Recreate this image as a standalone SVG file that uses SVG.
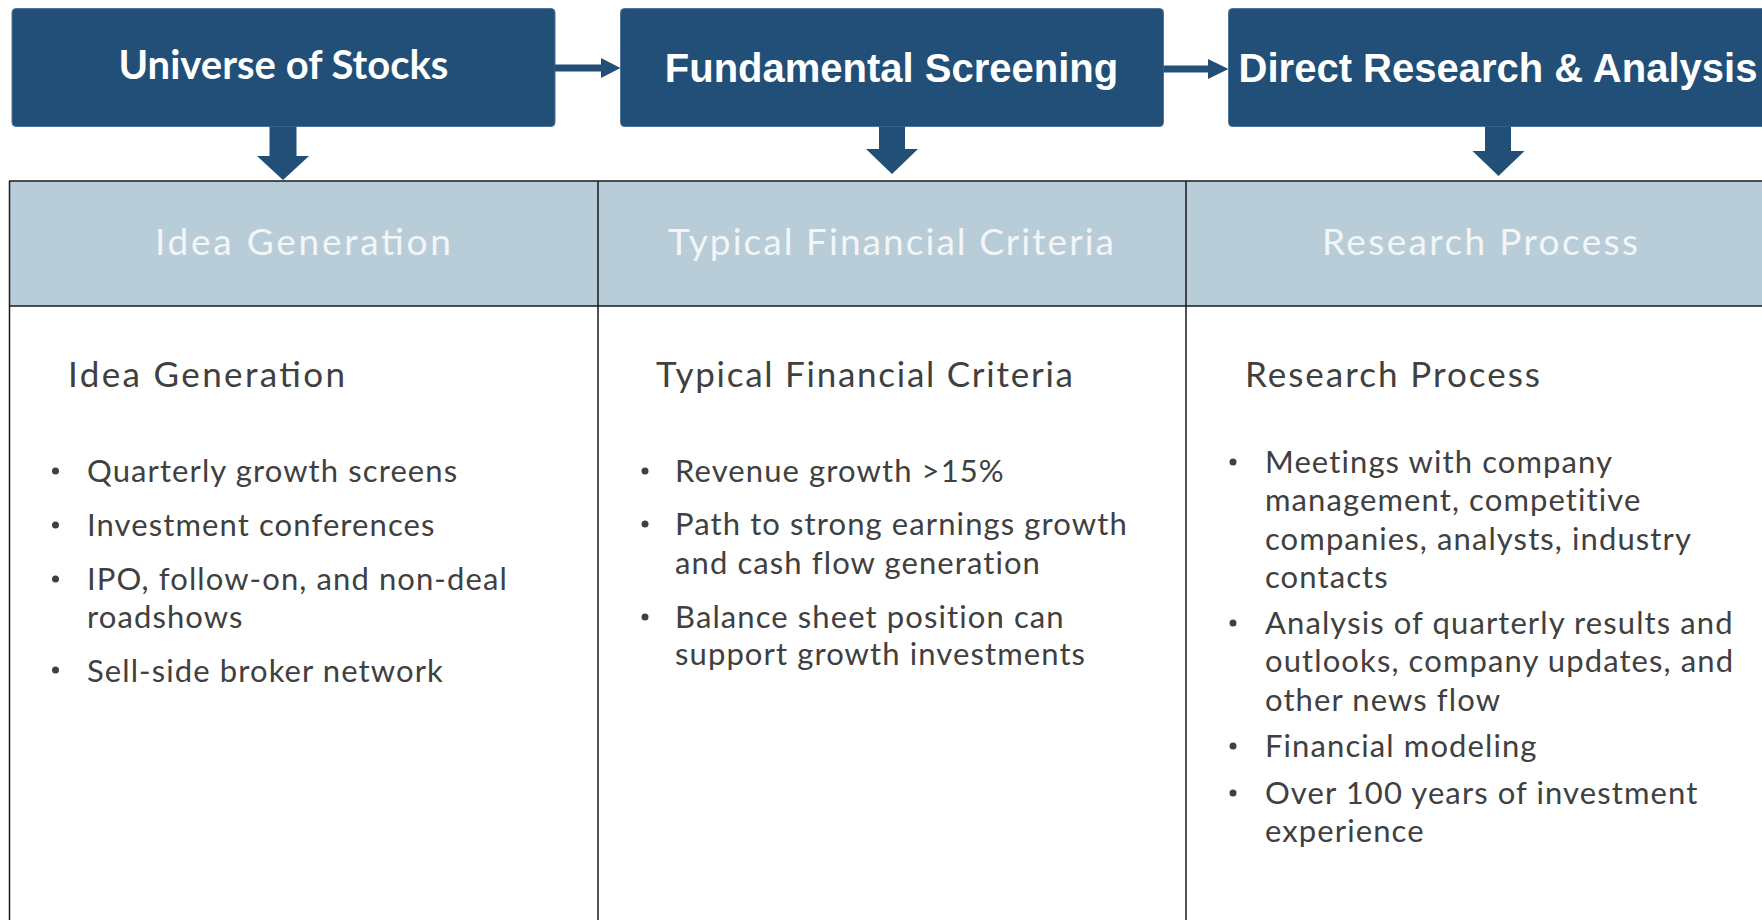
<svg xmlns="http://www.w3.org/2000/svg" width="1762" height="920" viewBox="0 0 1762 920">
  <style>
    .box { fill: #214f78; stroke: #4d7398; stroke-width: 1; }
    .boxtxt { fill: #ffffff; font-family: "Liberation Sans", Arial, sans-serif; font-weight: bold; font-size: 40px; text-anchor: middle; }
    .boxtxt2 { fill: #ffffff; font-family: Lato, "Noto Sans", sans-serif; font-weight: bold; font-size: 40px; text-anchor: middle; }
    .arrow { fill: #214f78; }
    .band { fill: #b8cdd7; }
    .rule { stroke: #1a1a1a; stroke-width: 1.5; fill: none; }
    .bandtxt { fill: #f2f6f8; font-family: Lato, "Noto Sans", sans-serif; font-weight: 400; font-size: 37px; text-anchor: middle; }
    .head { fill: #404040; font-family: Lato, "Noto Sans", sans-serif; font-size: 35px; }
    .item { fill: #404040; font-family: Lato, "Noto Sans", sans-serif; font-size: 31px; letter-spacing: 1.1px; }
    .dot { fill: #404040; }
  </style>

  <!-- process steps -->
  <g id="step-universe">
    <rect class="box" x="12" y="8.5" width="543" height="118" rx="4"/>
    <text class="boxtxt2" x="283.5" y="79">Universe of Stocks</text>
  </g>
  <g id="step-screening">
    <rect class="box" x="620.5" y="8.5" width="543" height="118" rx="4"/>
    <text class="boxtxt" x="891.5" y="82">Fundamental Screening</text>
  </g>
  <g id="step-research">
    <rect class="box" x="1228.5" y="8.5" width="543" height="118" rx="4"/>
    <text class="boxtxt" x="1498" y="82">Direct Research &amp; Analysis</text>
  </g>

  <!-- table frame -->
  <g id="table-frame">
    <rect class="band" x="9" y="181" width="1770" height="125"/>
    <line class="rule" x1="9" y1="181" x2="1762" y2="181"/>
    <line class="rule" x1="9" y1="306" x2="1762" y2="306"/>
    <line class="rule" x1="9.5" y1="181" x2="9.5" y2="920" stroke-width="2"/>
    <line class="rule" x1="598" y1="181" x2="598" y2="920"/>
    <line class="rule" x1="1186" y1="181" x2="1186" y2="920"/>
  </g>

  <!-- column 1 -->
  <g id="col-idea-generation">
    <text class="bandtxt" x="303" y="255" textLength="296" lengthAdjust="spacing">Idea Generation</text>
    <text class="head" x="68" y="387" textLength="277" lengthAdjust="spacing">Idea Generation</text>
    <circle class="dot" cx="55.5" cy="471" r="3.5"/>
    <text class="item" x="87" y="482">Quarterly growth screens</text>
    <circle class="dot" cx="55.5" cy="525" r="3.5"/>
    <text class="item" x="87" y="536">Investment conferences</text>
    <circle class="dot" cx="55.5" cy="579" r="3.5"/>
    <text class="item" x="87" y="590">IPO, follow-on, and non-deal</text>
    <text class="item" x="87" y="628">roadshows</text>
    <circle class="dot" cx="55.5" cy="670" r="3.5"/>
    <text class="item" x="87" y="682">Sell-side broker network</text>
  </g>

  <!-- column 2 -->
  <g id="col-financial-criteria">
    <text class="bandtxt" x="891" y="255" textLength="446" lengthAdjust="spacing">Typical Financial Criteria</text>
    <text class="head" x="656" y="387" textLength="417" lengthAdjust="spacing">Typical Financial Criteria</text>
    <circle class="dot" cx="645" cy="471" r="3.5"/>
    <text class="item" x="675" y="482">Revenue growth &gt;15%</text>
    <circle class="dot" cx="645" cy="524" r="3.5"/>
    <text class="item" x="675" y="535">Path to strong earnings growth</text>
    <text class="item" x="675" y="574">and cash flow generation</text>
    <circle class="dot" cx="645" cy="617" r="3.5"/>
    <text class="item" x="675" y="628">Balance sheet position can</text>
    <text class="item" x="675" y="665">support growth investments</text>
  </g>

  <!-- column 3 -->
  <g id="col-research-process">
    <text class="bandtxt" x="1480" y="255" textLength="316" lengthAdjust="spacing">Research Process</text>
    <text class="head" x="1245" y="387" textLength="295" lengthAdjust="spacing">Research Process</text>
    <circle class="dot" cx="1233" cy="462" r="3.5"/>
    <text class="item" x="1265" y="473">Meetings with company</text>
    <text class="item" x="1265" y="511">management, competitive</text>
    <text class="item" x="1265" y="550">companies, analysts, industry</text>
    <text class="item" x="1265" y="588">contacts</text>
    <circle class="dot" cx="1233" cy="623" r="3.5"/>
    <text class="item" x="1265" y="634">Analysis of quarterly results and</text>
    <text class="item" x="1265" y="672">outlooks, company updates, and</text>
    <text class="item" x="1265" y="711">other news flow</text>
    <circle class="dot" cx="1233" cy="746" r="3.5"/>
    <text class="item" x="1265" y="757">Financial modeling</text>
    <circle class="dot" cx="1233" cy="793" r="3.5"/>
    <text class="item" x="1265" y="804">Over 100 years of investment</text>
    <text class="item" x="1265" y="842">experience</text>
  </g>

  <!-- connectors -->
  <g id="connectors">
    <path class="arrow" d="M555,64.5 H601 V58 L620.5,68 L601,78 V71.5 H555 Z"/>
    <path class="arrow" d="M1163.5,65.5 H1208 V59 L1228.5,69 L1208,79 V72.5 H1163.5 Z"/>
    <path class="arrow" d="M269.5,126.5 H296.5 V156 H309 L283,180 L257,156 H269.5 Z"/>
    <path class="arrow" d="M879,126.5 H905 V149 H918 L892,174 L866,149 H879 Z"/>
    <path class="arrow" d="M1485,126.5 H1511 V151 H1524.5 L1498.5,176 L1472.5,151 H1485 Z"/>
  </g>
</svg>
